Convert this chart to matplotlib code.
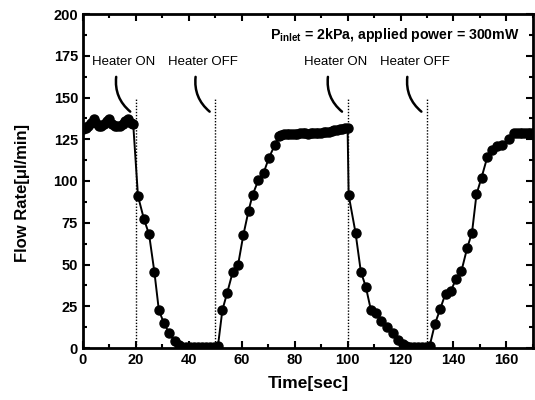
import numpy as np
import matplotlib.pyplot as plt
from matplotlib.ticker import MultipleLocator

plt.rcParams['font.family'] = ['Liberation Sans', 'DejaVu Sans']
plt.rcParams['mathtext.fontset'] = 'custom'
plt.rcParams['mathtext.rm'] = 'Liberation Sans'
plt.rcParams['mathtext.bf'] = 'Liberation Sans:bold'

# flow rate trace
time_s = [0, 1, 2, 3, 4, 5, 6, 7, 8, 9, 10, 11, 12, 13, 14, 15, 16, 17, 18, 19,
          20.8, 23, 25, 27, 28.7, 30.6, 32.6, 34.7, 36.3, 37.5, 39, 40.5, 42, 43.5,
          45, 46.5, 48, 49.5, 51,
          52.7, 54.5, 56.6, 58.6, 60.6, 62.6, 64.1, 66.3, 68.3, 70.3, 72.5, 74,
          75, 76, 77, 78, 79, 80, 81, 82, 83, 84, 85, 86, 87, 88, 89, 90, 91, 92,
          93, 94, 95, 96, 97, 98, 99, 100,
          100.4, 103, 105, 106.9, 108.8, 110.9, 112.8, 114.8, 117, 119, 120.8,
          122, 123.5, 125, 126.5, 128, 129.5, 131,
          133, 135, 137, 139, 141, 143, 145.2, 147, 148.7, 150.6, 152.8, 154.7,
          156.6, 158.5, 160.8, 163, 164, 165, 166, 167, 168, 169, 170]
flow_rate = [131, 132, 133, 135, 137, 135, 133, 133, 134, 136, 137, 134, 133, 133, 133, 134, 136, 137, 135, 134,
             91, 77.5, 68, 45.5, 22.5, 15, 8.8, 4, 1.8, 0.8, 0.5, 0.5, 0.5, 0.5,
             0.5, 0.6, 0.7, 0.8, 1.0,
             22.8, 33, 45.5, 49.6, 67.6, 82.3, 91.6, 100.6, 105, 114, 121.5, 127,
             127.8, 128, 128.2, 128.3, 128.3, 128.4, 128.4, 128.5, 128.5, 128.5, 128.4, 128.5, 128.6, 128.7, 128.8, 129, 129.2, 129.3,
             129.6, 130, 130.3, 130.7, 131, 131.3, 131.5, 131.5,
             91.6, 69, 45.8, 36.5, 22.8, 21, 16, 12.8, 9, 5, 2.4,
             1, 0.6, 0.5, 0.5, 0.6, 0.8, 1.2,
             14.4, 23.4, 32.6, 34, 41.6, 46, 60, 69, 92, 102, 114.4, 118.6,
             121, 121.5, 125, 128.5, 128.7, 128.7, 128.6, 128.6, 128.5, 128.5, 128.5]

switch_times = [20, 50, 100, 130]
switch_labels = ['Heater ON', 'Heater OFF', 'Heater ON', 'Heater OFF']


def plot_flow(ax):
    ax.plot(time_s, flow_rate, color='black', lw=1.4, marker='o', ms=6.5,
            mfc='black', mec='black', zorder=3)
    ax.vlines(switch_times, 0, 150, colors='black', linestyles=(0, (1, 1.2)), lw=1.0, zorder=2)

    for t, lab in zip(switch_times, switch_labels):
        ax.text(t - 4.5, 171, lab, ha='center', va='center', fontsize=9.5)
        ax.annotate('', xy=(t - 1.3, 140.5), xytext=(t - 7.3, 164),
                    arrowprops=dict(arrowstyle='-', connectionstyle='arc3,rad=0.3',
                                    lw=1.8, color='black'))

    ax.text(70.5, 187.5, r'$\mathbf{P_{inlet}}$ = 2kPa, applied power = 300mW',
            ha='left', va='center', fontsize=10.2, fontweight='bold')

    ax.set_xlim(0, 170)
    ax.set_ylim(0, 200)
    ax.xaxis.set_major_locator(MultipleLocator(20))
    ax.xaxis.set_minor_locator(MultipleLocator(10))
    ax.yaxis.set_major_locator(MultipleLocator(25))
    ax.yaxis.set_minor_locator(MultipleLocator(12.5))
    ax.tick_params(which='both', direction='in', top=True, right=True, width=1.5)
    ax.tick_params(which='major', length=5, labelsize=10.5)
    ax.tick_params(which='minor', length=3)
    for lab in ax.get_xticklabels() + ax.get_yticklabels():
        lab.set_fontweight('bold')
    for sp in ax.spines.values():
        sp.set_linewidth(2)

    ax.set_xlabel('Time[sec]', fontsize=12.5, fontweight='bold')
    ax.set_ylabel('Flow Rate[\u03bcl/min]', fontsize=12, fontweight='bold')
    ax.xaxis.set_label_coords(0.5, -0.085)
    ax.yaxis.set_label_coords(-0.118, 0.465)


if __name__ == "__main__":
    fig = plt.figure(figsize=(5.35, 4.0), dpi=100)
    ax = fig.add_axes([0.155, 0.13, 0.841, 0.835])
    plot_flow(ax)
    fig.savefig('out.png', dpi=100)
